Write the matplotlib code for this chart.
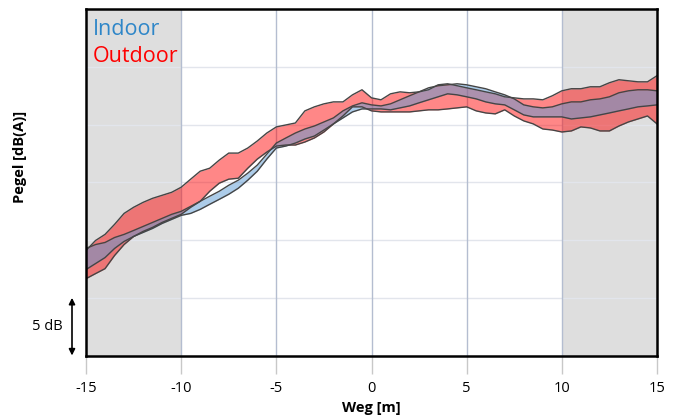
import matplotlib
matplotlib.use("Agg")
import matplotlib.pyplot as plt
import matplotlib.transforms as mtransforms

plt.rcParams['font.family'] = ['Open Sans', 'DejaVu Sans']

# position along path [m], every 0.5 m
weg = [x / 2 for x in range(-30, 31)]

# levels in dB (relative, 0 = bottom of axis)
outdoor_upper = [9.10, 9.97, 10.50, 11.37, 12.32, 12.85, 13.28, 13.63, 13.89, 14.15,
                 14.59, 15.29, 15.98, 16.24, 16.94, 17.55, 17.55, 17.99, 18.60, 19.29,
                 19.82, 19.99, 20.16, 21.21, 21.56, 21.82, 21.99, 21.99, 22.60, 23.04,
                 22.34, 22.17, 22.69, 22.86, 22.78, 22.86, 23.04, 23.47, 23.56, 23.39,
                 23.21, 23.04, 22.86, 22.69, 22.43, 22.34, 22.25, 22.25, 22.17, 22.52,
                 22.95, 23.13, 23.13, 23.30, 23.30, 23.65, 23.91, 23.82, 23.73, 23.73,
                 24.26]
outdoor_lower = [6.66, 7.10, 7.53, 8.67, 9.62, 10.32, 10.76, 11.11, 11.54, 11.89,
                 12.24, 12.85, 13.37, 14.24, 14.94, 15.29, 15.37, 16.24, 17.03, 17.64,
                 18.16, 18.25, 18.25, 18.51, 18.86, 19.38, 20.08, 20.77, 21.56, 21.56,
                 21.21, 21.12, 21.12, 21.12, 21.12, 21.21, 21.30, 21.30, 21.38, 21.47,
                 21.56, 21.21, 21.03, 20.95, 21.30, 20.77, 20.34, 20.08, 19.64, 19.55,
                 19.38, 19.47, 19.82, 19.73, 19.47, 19.47, 19.90, 20.25, 20.51, 20.77,
                 20.08]
indoor_upper = [9.28, 9.62, 9.80, 10.23, 10.50, 10.84, 11.19, 11.54, 11.89, 12.24,
                12.50, 12.93, 13.37, 13.81, 14.24, 14.76, 15.20, 15.81, 16.51, 17.46,
                18.42, 18.86, 19.29, 19.64, 19.90, 20.25, 20.60, 21.21, 21.64, 21.91,
                21.73, 21.64, 21.82, 22.17, 22.52, 22.86, 23.21, 23.39, 23.47, 23.56,
                23.47, 23.30, 23.13, 22.86, 22.60, 22.25, 21.73, 21.56, 21.47, 21.56,
                21.82, 21.99, 21.99, 22.17, 22.25, 22.43, 22.78, 22.95, 23.04, 23.04,
                22.95]
indoor_lower = [7.45, 7.97, 8.49, 9.28, 9.89, 10.32, 10.67, 11.02, 11.45, 11.80,
                12.15, 12.32, 12.67, 13.11, 13.54, 13.98, 14.50, 15.20, 15.98, 17.03,
                17.99, 18.16, 18.42, 18.77, 19.03, 19.55, 20.08, 20.60, 21.12, 21.38,
                21.38, 21.38, 21.30, 21.47, 21.64, 21.91, 22.17, 22.43, 22.69, 22.60,
                22.43, 22.25, 21.99, 21.82, 21.73, 21.30, 20.86, 20.69, 20.69, 20.69,
                20.69, 20.51, 20.60, 20.69, 20.86, 21.03, 21.21, 21.38, 21.56, 21.64,
                21.73]

xticks = [-15, -10, -5, 0, 5, 10, 15]
hgrid = [5, 10, 15, 20, 25]

W, H = 677, 419
fig = plt.figure(figsize=(W / 100, H / 100), dpi=100)
ax = fig.add_axes([86 / W, 1 - 355.5 / H, (657 - 86) / W, (355.5 - 9.5) / H])
ax.set_xlim(-15, 15)
ax.set_ylim(0, 30)

# shaded zones
ax.axvspan(-15, -10, color='#dedede', zorder=0, lw=0)
ax.axvspan(10, 15, color='#dedede', zorder=0, lw=0)

for g in hgrid:
    ax.axhline(g, color='#e2e5ec', lw=1, zorder=1)
for t in xticks[1:-1]:
    ax.axvline(t, color='#b4bdd0', lw=1, zorder=1)

edge = '#454545'
ax.fill_between(weg, outdoor_lower, outdoor_upper, color='#ff0000', alpha=0.47,
                lw=0, zorder=2)
ax.fill_between(weg, indoor_lower, indoor_upper, color='#5b9bd5', alpha=0.5,
                lw=0, zorder=3)
for s in (outdoor_upper, outdoor_lower, indoor_upper, indoor_lower):
    ax.plot(weg, s, color=edge, lw=1.0, zorder=4)

ax.set_xticks(xticks)
ax.set_xticklabels([str(t) for t in xticks], fontsize=10.5)
ax.set_yticks([])
ax.tick_params(axis='x', length=13, width=1, color='#c8c8c8', pad=5)
for sp in ax.spines.values():
    sp.set_color('black')
    sp.set_linewidth(1.8)
    sp.set_zorder(6)

ax.set_xlabel('Weg [m]', fontsize=10.5, fontweight='bold', labelpad=4)
fig.text(20 / W, 1 - 157 / H, 'Pegel [dB(A)]', rotation=90, fontsize=10.5,
         fontweight='bold', ha='center', va='center')

# legend texts
ax.text((93 - 86) / (657 - 86), (355.5 - 35) / 346, 'Indoor', transform=ax.transAxes,
        color='#2e86c8', fontsize=15.5, ha='left', va='baseline')
ax.text((93 - 86) / (657 - 86), (355.5 - 61.5) / 346, 'Outdoor', transform=ax.transAxes,
        color='#ff0000', fontsize=15.5, ha='left', va='baseline')

# 5 dB scale arrow
trans = mtransforms.blended_transform_factory(ax.transAxes, ax.transData)
xa = (72 - 86) / (657 - 86)
ax.annotate('', xy=(xa, 0), xytext=(xa, 5), xycoords=trans, textcoords=trans,
            arrowprops=dict(arrowstyle='<|-|>', color='black', lw=1.2,
                            mutation_scale=9, shrinkA=0, shrinkB=0),
            annotation_clip=False)
ax.text((47 - 86) / (657 - 86), 2.5, '5 dB', transform=trans, fontsize=10.5,
        ha='center', va='center', clip_on=False)

fig.savefig('out.png', dpi=100)
